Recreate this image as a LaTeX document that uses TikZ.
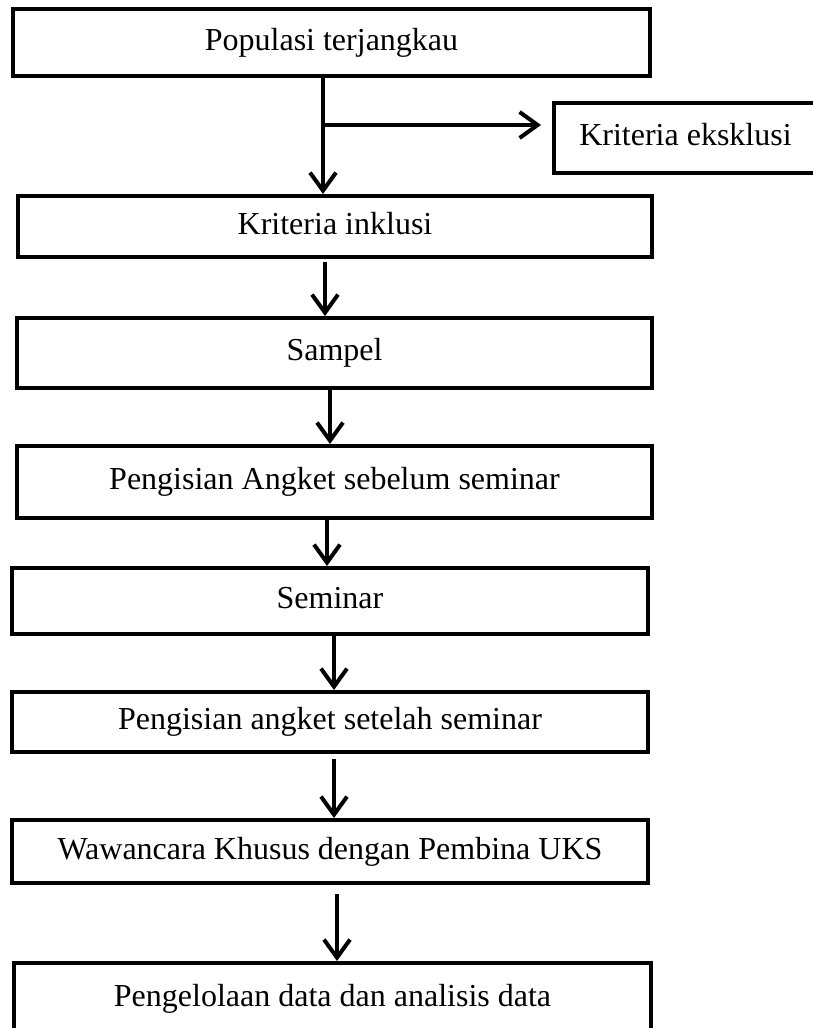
\documentclass[tikz,border=0pt]{standalone}
\usepackage{fontspec}
\setmainfont{Liberation Serif}
\usepackage{tikz}
\usetikzlibrary{arrows.meta,positioning}

\tikzset{
  flowbox/.style={draw, line width=4pt, rectangle, inner sep=0pt,
    font=\fontsize{32}{38}\selectfont, text height=22pt, text depth=7pt},
  flowarrow/.style={line width=4pt, -{Straight Barb[length=18pt,width=26pt]}}
}

\begin{document}
\begin{tikzpicture}[x=1pt,y=-1pt]
            \useasboundingbox (0,0) rectangle (812,1028);

            % population box
            \node[flowbox, minimum width=637pt, minimum height=67pt] (pop) at (331.5,42.5) {Populasi terjangkau};

            % exclusion box
            \node[flowbox, minimum width=263pt, minimum height=70pt] (exc) at (685.5,138) {Kriteria eksklusi};

            % steps
            \node[flowbox, minimum width=634pt, minimum height=61pt] (inc) at (335,226.5) {Kriteria inklusi};
            \node[flowbox, minimum width=635pt, minimum height=70pt] (sam) at (334.5,353) {Sampel};
            \node[flowbox, minimum width=635pt, minimum height=72pt] (pre) at (334.5,482) {Pengisian Angket sebelum seminar};
            \node[flowbox, minimum width=636pt, minimum height=66pt] (sem) at (330,601) {Seminar};
            \node[flowbox, minimum width=636pt, minimum height=60pt] (post) at (330,722) {Pengisian angket setelah seminar};
            \node[flowbox, minimum width=636pt, minimum height=63pt] (itv) at (330,851.5) {Wawancara Khusus dengan Pembina UKS};
            \node[flowbox, minimum width=637pt, minimum height=72pt] (ana) at (332.5,999) {Pengelolaan data dan analisis data};

            % arrows
            \coordinate (split) at (323,125);
            \draw[flowarrow] ([xshift=-8.5pt]pop.south) -- ([xshift=-12pt]inc.north);
            \draw[flowarrow, shorten >=11pt] (split) -- (exc.west |- split);
            \draw[flowarrow, shorten <=3pt] ([xshift=-10pt]inc.south) -- ([xshift=-9.5pt]sam.north);
            \draw[flowarrow] ([xshift=-4.5pt]sam.south) -- ([xshift=-4.5pt]pre.north);
            \draw[flowarrow] ([xshift=-7.5pt]pre.south) -- ([xshift=-3pt]sem.north);
            \draw[flowarrow] ([xshift=4pt]sem.south) -- ([xshift=4pt]post.north);
            \draw[flowarrow, shorten <=5pt] ([xshift=4pt]post.south) -- ([xshift=4pt]itv.north);
            \draw[flowarrow, shorten <=9pt] ([xshift=7pt]itv.south) -- ([xshift=4.5pt]ana.north);
          \end{tikzpicture}
\end{document}
